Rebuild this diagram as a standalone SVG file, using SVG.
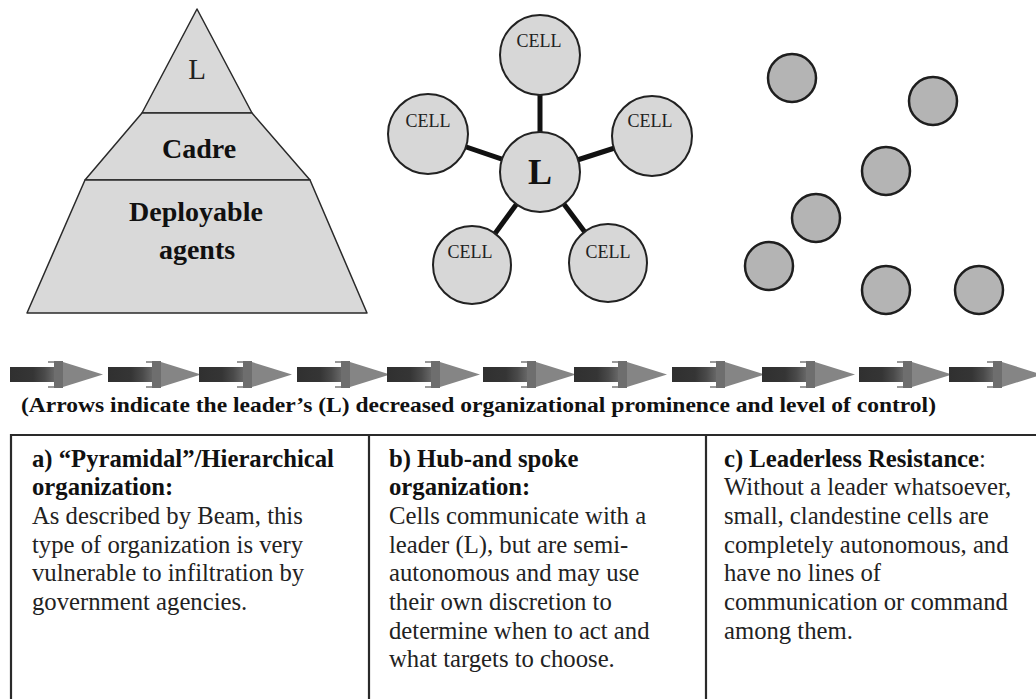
<svg xmlns="http://www.w3.org/2000/svg" xmlns:xlink="http://www.w3.org/1999/xlink" width="1036" height="699" viewBox="0 0 1036 699">
<style>
text{font-family:"Liberation Serif","Times New Roman",serif;}
.pyr{fill:#d9d9d9;stroke:#2a2a2a;stroke-width:1.5;stroke-linejoin:round;}
.hub{fill:#d7d7d7;stroke:#222;stroke-width:2;}
.free{fill:#b4b4b4;stroke:#1e1e1e;stroke-width:2.5;}
.spoke{stroke:#111;stroke-width:5;}
.cell{font-size:18px;fill:#222;text-anchor:middle;}
.ptxt{font-size:28px;font-weight:bold;fill:#111;text-anchor:middle;}
.cap{font-size:22px;font-weight:bold;fill:#111;}
.hd{font-size:24.7px;font-weight:bold;fill:#111;}
.bd{font-size:24.7px;fill:#222;}
.frame{stroke:#2a2a2a;stroke-width:2.2;fill:none;}
</style>
<defs>
<linearGradient id="bodyg" x1="0" y1="0" x2="1" y2="0">
<stop offset="0" stop-color="#303030"/>
<stop offset="0.5" stop-color="#353535"/>
<stop offset="0.75" stop-color="#4a4a4a"/>
<stop offset="1" stop-color="#6c6c6c"/>
</linearGradient>
<g id="arr">
<rect x="0" y="367" width="46" height="15" fill="url(#bodyg)"/>
<rect x="38" y="361" width="8" height="2" fill="#9a9a9a"/>
<rect x="38" y="386" width="8" height="2" fill="#9a9a9a"/>
<rect x="44" y="361" width="9" height="27" fill="#6e6e6e"/>
<polygon points="53,362 93,374.5 53,387" fill="#858585"/>
</g>
</defs>
<rect width="1036" height="699" fill="#fff"/>

<g id="pyramid">
<polygon class="pyr" points="197,9 252,113 142,113"/>
<polygon class="pyr" points="142,113 252,113 310,180 85,180"/>
<polygon class="pyr" points="85,180 310,180 367,313 27,313"/>
<text x="197" y="79" style="font-size:29px;fill:#222;text-anchor:middle;">L</text>
<text class="ptxt" x="199" y="158">Cadre</text>
<text class="ptxt" x="196" y="221">Deployable</text>
<text class="ptxt" x="197" y="259">agents</text>
</g>

<g id="connectors">
<line class="spoke" x1="540" y1="172" x2="540" y2="55"/>
<line class="spoke" x1="540" y1="172" x2="428" y2="134"/>
<line class="spoke" x1="540" y1="172" x2="652" y2="136"/>
<line class="spoke" x1="540" y1="172" x2="472" y2="265"/>
<line class="spoke" x1="540" y1="172" x2="608" y2="263"/>
</g>

<g id="hub-leader">
<circle class="hub" cx="540" cy="172" r="40"/>
<text x="540" y="184" style="font-size:36px;font-weight:bold;fill:#111;text-anchor:middle;">L</text>
</g>
<g id="cell-top"><circle class="hub" cx="540" cy="55" r="40"/><text class="cell" x="539" y="47">CELL</text></g>
<g id="cell-left"><circle class="hub" cx="428" cy="134" r="40"/><text class="cell" x="428" y="127">CELL</text></g>
<g id="cell-right"><circle class="hub" cx="652" cy="136" r="40"/><text class="cell" x="650" y="127">CELL</text></g>
<g id="cell-bottom-left"><circle class="hub" cx="472" cy="265" r="39"/><text class="cell" x="470" y="258">CELL</text></g>
<g id="cell-bottom-right"><circle class="hub" cx="608" cy="263" r="39"/><text class="cell" x="608" y="258">CELL</text></g>

<g id="leaderless">
<circle class="free" cx="792" cy="78" r="24"/>
<circle class="free" cx="933" cy="101" r="24"/>
<circle class="free" cx="886" cy="171" r="24"/>
<circle class="free" cx="816" cy="218" r="24"/>
<circle class="free" cx="769" cy="266" r="24"/>
<circle class="free" cx="886" cy="290" r="24"/>
<circle class="free" cx="979" cy="290" r="24"/>
</g>

<g id="arrows">
<use xlink:href="#arr" x="10"/>
<use xlink:href="#arr" x="108"/>
<use xlink:href="#arr" x="199"/>
<use xlink:href="#arr" x="297"/>
<use xlink:href="#arr" x="387"/>
<use xlink:href="#arr" x="483"/>
<use xlink:href="#arr" x="574"/>
<use xlink:href="#arr" x="672"/>
<use xlink:href="#arr" x="762"/>
<use xlink:href="#arr" x="859"/>
<use xlink:href="#arr" x="949"/>
</g>

<text class="cap" x="21" y="412" textLength="915" lengthAdjust="spacingAndGlyphs">(Arrows indicate the leader’s (L) decreased organizational prominence and level of control)</text>

<g id="table">
<path class="frame" d="M11,699 V435 H1036 M369,435 V699 M706,435 V699"/>
</g>

<g id="col-a">
<text class="hd" x="32" y="466.5">a) “Pyramidal”/Hierarchical</text>
<text class="hd" x="32" y="495.2">organization:</text>
<text class="bd" x="32" y="523.9">As described by Beam, this</text>
<text class="bd" x="32" y="552.6">type of organization is very</text>
<text class="bd" x="32" y="581.3">vulnerable to infiltration by</text>
<text class="bd" x="32" y="610">government agencies.</text>
</g>
<g id="col-b">
<text class="hd" x="389" y="466.5">b) Hub-and spoke</text>
<text class="hd" x="389" y="495.2">organization:</text>
<text class="bd" x="389" y="523.9">Cells communicate with a</text>
<text class="bd" x="389" y="552.6">leader (L), but are semi-</text>
<text class="bd" x="389" y="581.3">autonomous and may use</text>
<text class="bd" x="389" y="610">their own discretion to</text>
<text class="bd" x="389" y="638.7">determine when to act and</text>
<text class="bd" x="389" y="667.4">what targets to choose.</text>
</g>
<g id="col-c">
<text x="724" y="466.5"><tspan class="hd">c) Leaderless Resistance</tspan><tspan class="bd">:</tspan></text>
<text class="bd" x="724" y="495.2">Without a leader whatsoever,</text>
<text class="bd" x="724" y="523.9">small, clandestine cells are</text>
<text class="bd" x="724" y="552.6">completely autonomous, and</text>
<text class="bd" x="724" y="581.3">have no lines of</text>
<text class="bd" x="724" y="610">communication or command</text>
<text class="bd" x="724" y="638.7">among them.</text>
</g>
</svg>
